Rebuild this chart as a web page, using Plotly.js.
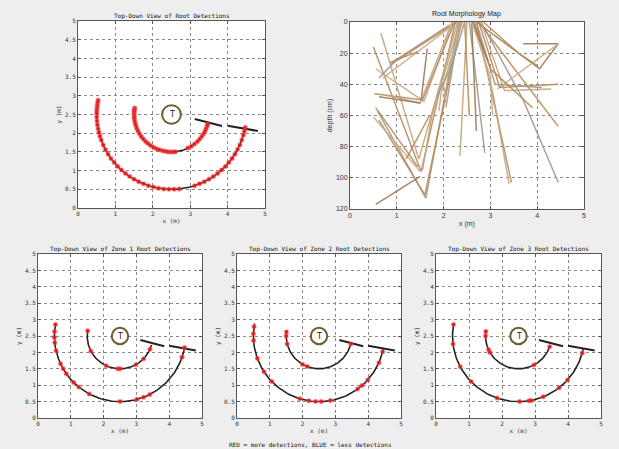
<!DOCTYPE html>
<html>
<head>
<meta charset="utf-8">
<script src="https://cdn.plot.ly/plotly-3.0.1.min.js"></script>
<style>html,body{margin:0;padding:0;background:#eeeeee;}#chart{width:619px;height:449px;}</style>
</head>
<body>
<div id="chart"></div>
<script>
// ---- scan geometry (tree at centre, two scan arcs) ----
const treeCenter = [2.5, 2.5];
const arcRadii = [1, 2];
const arcStartDeg = [170, 169];
const arcEndDeg = [345, 350];
// radial start-marker lines [x0, y0, x1, y1]
const radialInner = [3.12, 2.38, 3.85, 2.19];
const radialOuter = [4.0, 2.20, 4.81, 2.06];

// ---- detections (angle in degrees around the tree) ----
const allInner = [170,172,174,177,180,183,186,190,194,198,202,206,211,216,221,226,231,236,241,246,251,256,260,264,268,272,276,296,302,308,314,319,324,329,334,338,342,345];
const allOuter = [169,171,173,175,177,179,182,185,188,191,194,197,200,204,208,212,216,220,224,228,232,236,240,244,248,252,256,260,264,268,272,276,288,292,296,300,304,308,312,316,320,324,328,332,336,340,344,347,350];
const zone1Inner = [171,207,245,266,270,299,316,336];
const zone1Outer = [170,176,181,186,193,205,210,215,225,231,242,270,285,291,297,341,350];
const zone2Inner = [173,180,194,240,249,346];
const zone2Outer = [172,178,184,200,213,224,253,261,267,272,280,306,311,318,336,346];
const zone3Inner = [172,180,205,210,298,341];
const zone3Outer = [170,187,208,224,251,271,279,281,292,308,318,345];

// ---- root morphology (x in m, depth in cm) ----
const rootX = [
  [2.25,1.52,0.50],[2.30,1.47,0.66],[2.32,1.62,0.55],[2.38,1.60,0.62],[1.50,0.55],
  [2.20,1.58,0.55],[2.24,1.55,0.52],[2.18,1.50,0.78],[2.12,1.00,0.62],[2.28,1.20,0.88],
  [1.65,1.52],[0.50,1.50],[0.60,1.45],[2.40,1.95,1.90],[2.35,2.05],
  [1.20,1.70],[0.62,1.50],[0.70,2.20],[0.85,1.45],[2.50,2.35],
  [2.55,2.88],[2.45,2.55],[2.60,2.70],[2.40,2.00,2.05],[2.70,3.45],
  [2.65,3.05,3.40],[2.80,3.70,4.45],[2.75,4.45],[2.70,4.05,4.45,3.70],[4.45,3.15],
  [2.75,3.20,4.45],[2.80,3.30,4.30],[2.70,3.10,4.10],[2.65,3.00,3.90],[2.62,2.95],
  [2.60,3.00,3.05],[2.85,3.60,4.00],[2.35,1.75,1.55],[2.45,2.15,1.85]
];
const rootD = [
  [0,96,16],[0,88,7],[0,113,55],[0,111,63],[99,117],
  [0,51,30],[0,50,46],[0,52,47],[2,24,36],[0,21,27],
  [17,50],[61,96],[57,93],[0,45,57],[0,55],
  [88,60],[48,52],[36,2],[26,19],[0,86],
  [0,84],[0,60],[0,70],[0,40,52],[0,103],
  [0,45,104],[0,50,103],[0,67],[0,30,14,14],[14,43],
  [0,42,40],[0,44,43],[0,40,42],[0,30,55],[0,25],
  [0,35,60],[0,20,28],[0,60,95],[0,30,48]
];

const titlesTD = ['Top-Down View of Root Detections','Top-Down View of Zone 1 Root Detections','Top-Down View of Zone 2 Root Detections','Top-Down View of Zone 3 Root Detections'];
const caption = 'RED = more detections, BLUE = less detections';

// ---- helpers ----
function arcPts(r, a0, a1){
  const xs=[], ys=[];
  for(let a=a0; a<=a1+0.001; a+=1.5){
    const t=a*Math.PI/180;
    xs.push(treeCenter[0]+r*Math.cos(t)); ys.push(treeCenter[1]+r*Math.sin(t));
  }
  return [xs, ys];
}
function detPts(r, angs){
  return [angs.map(a=>treeCenter[0]+r*Math.cos(a*Math.PI/180)), angs.map(a=>treeCenter[1]+r*Math.sin(a*Math.PI/180))];
}

const traces = [];
const shapes = [];
const annotations = [];
const tdSets = [
  {xa:'x', ya:'y', inner:allInner, outer:allOuter},
  {xa:'x3', ya:'y3', inner:zone1Inner, outer:zone1Outer},
  {xa:'x4', ya:'y4', inner:zone2Inner, outer:zone2Outer},
  {xa:'x5', ya:'y5', inner:zone3Inner, outer:zone3Outer}
];
tdSets.forEach(s=>{
  for(let i=0;i<2;i++){
    const p = arcPts(arcRadii[i], arcStartDeg[i], arcEndDeg[i]);
    traces.push({x:p[0], y:p[1], xaxis:s.xa, yaxis:s.ya, mode:'lines', line:{color:'#222', width:1.6}, hoverinfo:'skip', showlegend:false});
  }
  [radialInner, radialOuter].forEach(L=>{
    traces.push({x:[L[0],L[2]], y:[L[1],L[3]], xaxis:s.xa, yaxis:s.ya, mode:'lines', line:{color:'#222', width:2}, showlegend:false});
  });
  [[arcRadii[0], s.inner],[arcRadii[1], s.outer]].forEach(([r,angs])=>{
    const p = detPts(r, angs);
    traces.push({x:p[0], y:p[1], xaxis:s.xa, yaxis:s.ya, mode:'markers',
      marker:{symbol:'circle', size:4, color:'rgba(225,20,25,0.9)', line:{color:'rgba(255,80,80,0.4)', width:1.5}}, showlegend:false});
  });
  const xr = s.xa, yr = s.ya;
  shapes.push({type:'circle', xref:xr, yref:yr, x0:treeCenter[0]-0.25, x1:treeCenter[0]+0.25, y0:treeCenter[1]-0.25, y1:treeCenter[1]+0.25, fillcolor:'#ffffff', line:{color:'#6e5c2c', width:2}});
  annotations.push({xref:xr, yref:yr, x:treeCenter[0], y:treeCenter[1], text:'T', showarrow:false, font:{family:'DejaVu Sans', size:8, color:'#222'}});
});

const rootColors = ['#b48c5e','#c4a47c','#a0998e','#bb8a52','#9c7a58','#c9ad8a'];
rootX.forEach((xs,i)=>{
  traces.push({x:xs, y:rootD[i], xaxis:'x2', yaxis:'y2', mode:'lines', line:{color:rootColors[i%rootColors.length], width:1.5}, opacity:0.9, showlegend:false});
});

// ---- axes ----
const mono = {family:'DejaVu Sans Mono', size:6, color:'#333'};
function tdAxes(xd, yd){
  const base = {showline:true, mirror:'ticks', linecolor:'#555', linewidth:1, ticks:'inside', ticklen:3, tickcolor:'#555',
    showgrid:true, gridcolor:'#8a8a8a', griddash:'dot', gridwidth:1, zeroline:false, tickfont:mono};
  return [
    Object.assign({}, base, {domain:xd, range:[0,5], dtick:1, tick0:0, title:{text:'x (m)', font:mono, standoff:2}}),
    Object.assign({}, base, {domain:yd, range:[0,5], dtick:0.5, tick0:0, title:{text:'y (m)', font:mono, standoff:2}})
  ];
}
const sans = {family:'Liberation Sans', size:7, color:'#333'};
const [xa1, ya1] = tdAxes([78/619, 265/619], [1-208/449, 1-21/449]);
const [xa3, ya3] = tdAxes([38/619, 202/619], [1-418/449, 1-254/449]);
const [xa4, ya4] = tdAxes([237/619, 401/619], [1-418/449, 1-254/449]);
const [xa5, ya5] = tdAxes([436/619, 601/619], [1-418/449, 1-254/449]);
ya1.anchor='x'; xa1.anchor='y';
ya3.anchor='x3'; xa3.anchor='y3';
ya4.anchor='x4'; xa4.anchor='y4';
ya5.anchor='x5'; xa5.anchor='y5';
const xa2 = {domain:[350/619, 584/619], anchor:'y2', range:[0,5], dtick:1, showline:true, mirror:'ticks', linecolor:'#555', ticks:'inside', ticklen:3, tickcolor:'#555',
  showgrid:true, gridcolor:'#8a8a8a', griddash:'dot', zeroline:false, tickfont:sans, title:{text:'x (m)', font:sans, standoff:2}};
const ya2 = {domain:[1-209/449, 1-22/449], anchor:'x2', range:[120,0], dtick:20, showline:true, mirror:'ticks', linecolor:'#555', ticks:'inside', ticklen:3, tickcolor:'#555',
  showgrid:true, gridcolor:'#8a8a8a', griddash:'dot', zeroline:false, tickfont:sans, title:{text:'depth (cm)', font:sans, standoff:2}};

// subplot titles
const titleFont = {family:'DejaVu Sans Mono', size:6, color:'#111'};
function ann(x, y, text, font){
  annotations.push({xref:'paper', yref:'paper', x:x/619, y:1-y/449, text:text, showarrow:false, font:font, xanchor:'center', yanchor:'middle'});
}
ann(171.5, 16, titlesTD[0], titleFont);
ann(467, 14, 'Root Morphology Map', {family:'Liberation Sans', size:7, color:'#222'});
ann(120, 249, titlesTD[1], titleFont);
ann(319, 249, titlesTD[2], titleFont);
ann(518.5, 249, titlesTD[3], titleFont);
ann(310, 444, caption, titleFont);

const layout = {
  width:619, height:449, margin:{l:0,r:0,t:0,b:0},
  paper_bgcolor:'#eeeeee', plot_bgcolor:'#ffffff', showlegend:false,
  xaxis:xa1, yaxis:ya1, xaxis2:xa2, yaxis2:ya2, xaxis3:xa3, yaxis3:ya3, xaxis4:xa4, yaxis4:ya4, xaxis5:xa5, yaxis5:ya5,
  shapes:shapes, annotations:annotations
};
Plotly.newPlot('chart', traces, layout, {displayModeBar:false, staticPlot:true});
</script>
</body>
</html>
